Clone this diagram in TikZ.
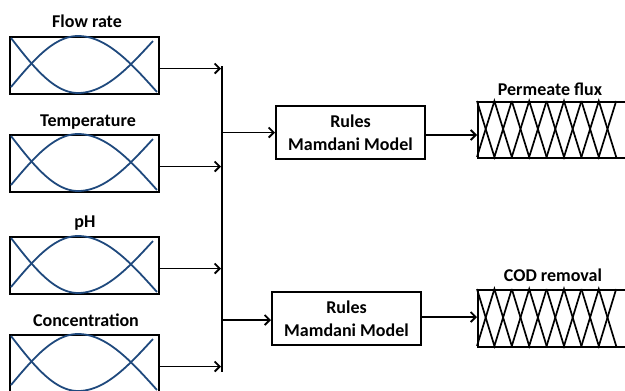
\documentclass[tikz,border=0pt]{standalone}
\usepackage{fontspec}
\setmainfont{Carlito}
\usetikzlibrary{arrows.meta}
\definecolor{curveblue}{RGB}{31,73,125}
\begin{document}
\begin{tikzpicture}[x=1pt,y=-1pt,
  inbox/.style={draw, line width=2pt, minimum width=149pt, minimum height=57pt, inner sep=0pt, anchor=north west},
  lbl/.style={font=\bfseries\fontsize{18}{22}\selectfont, inner sep=0pt},
  rulebox/.style={draw, line width=2pt, minimum width=149pt, minimum height=53pt, inner sep=0pt, align=center, font=\bfseries\fontsize{18}{23}\selectfont},
  outbox/.style={draw, line width=2pt, minimum width=153pt, minimum height=56pt, inner sep=0pt, anchor=north west},
  arr/.style={line width=1.8pt, -{Straight Barb[length=5pt,width=10pt]}},
  conn/.style={line width=1.8pt},
  curve/.style={curveblue, line width=1.8pt},
  zig/.style={line width=1.7pt}]
\useasboundingbox (0,0) rectangle (625,391);

% input boxes
\node[inbox] (in1) at (9,36) {};
\node[inbox] (in2) at (9,134) {};
\node[inbox] (in3) at (9,236) {};
\node[inbox] (in4) at (9,334) {};

\node[lbl] (l1) at (87,21) {Flow rate};
\node[lbl] (l2) at (88,122) {Temperature};
\node[lbl] (l3) at (85,223) {pH};
\node[lbl] (l4) at (86,320) {Concentration};

\foreach \b in {in1,in2,in3,in4}{
  \begin{scope}[shift={(\b.north west)}]
    \draw[curve] plot[domain=0:1,samples=30] ({2+67*\x},{51-51*sin(90*\x)})
      -- plot[domain=0:1,samples=30] ({69+79*\x},{56-56*cos(90*\x)});
    \draw[curve] plot[domain=0:1,samples=30] ({2+67*\x},{2+55*sin(90*\x)})
      -- plot[domain=0:1,samples=30] ({69+75*\x},{5+52*cos(90*\x)});
  \end{scope}
}

% bus
\coordinate (bustop) at (222,66);
\coordinate (busbot) at (222,372);
\draw[conn] (bustop) -- (busbot);

\foreach \b/\a in {in1/a1,in2/a2,in3/a3,in4/a4}{
  \path ([yshift=-3pt]\b.east) coordinate (\a);
  \draw[arr] (\a) -- ([xshift=-1pt]\a -| bustop);
}

% rules boxes
\node[rulebox] (r1) at (350.5,132.5) {Rules\\Mamdani Model};
\node[rulebox] (r2) at (346.5,318.5) {Rules\\Mamdani Model};

\draw[arr] (r1.west -| bustop) -- (r1.west);
\draw[arr] ([yshift=-1.5pt]r2.west -| bustop) -- ([yshift=-1.5pt]r2.west);

% output boxes
\node[outbox] (o1) at (477,101) {};
\node[outbox, minimum height=57pt] (o2) at (477,289) {};

\node[lbl] (ol1) at (550,89) {Permeate flux};
\node[lbl] (ol2) at (553,275) {COD removal};

\foreach \o/\h in {o1/56,o2/57}{
  \begin{scope}[shift={(\o.north west)}]
    \foreach \i in {0,2,4,6}{
      \draw[zig] ({\i*17.4},0) -- ({\i*17.4+17.4},\h) -- ({\i*17.4+34.8},0);
      \draw[zig] ({\i*17.4},\h) -- ({\i*17.4+17.4},0) -- ({\i*17.4+34.8},\h);
    }
  \end{scope}
}

\draw[arr] ([yshift=-2.5pt]r1.east) -- ([yshift=-2.5pt]r1.east -| o1.west);
\draw[arr] ([yshift=1.5pt]r2.east) -- ([yshift=1.5pt]r2.east -| o2.west);
\end{tikzpicture}
\end{document}
